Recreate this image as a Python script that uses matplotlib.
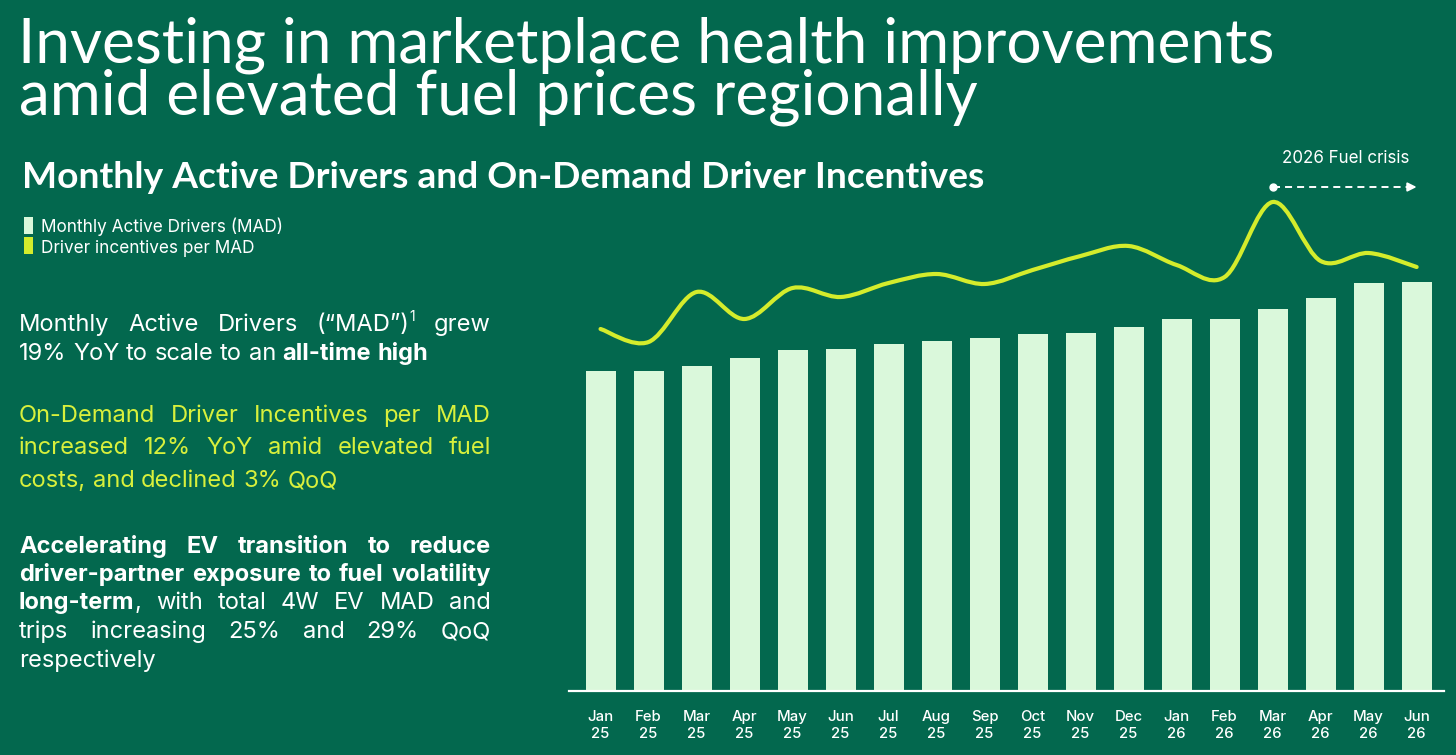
import matplotlib
matplotlib.use("Agg")
import matplotlib.pyplot as plt
from matplotlib.path import Path
from matplotlib.patches import PathPatch, Rectangle

# --- colours ---
BG = "#03684E"
BAR = "#DAF8DB"
LIME = "#D4EC2C"
TEXT_LIME = "#D8F03C"
WHITE = "#FFFFFF"

# --- data (relative units) ---
months = ["Jan", "Feb", "Mar", "Apr", "May", "Jun", "Jul", "Aug", "Sep",
          "Oct", "Nov", "Dec", "Jan", "Feb", "Mar", "Apr", "May", "Jun"]
years = ["25"] * 12 + ["26"] * 6
mad = [320, 320, 325, 333, 341, 342, 347, 350, 353,
       357, 358, 364, 372, 372, 382, 393, 408, 409]
incentives = [362, 349, 399, 372, 403, 394, 408, 417, 407,
              421, 435, 445, 426, 414, 489, 430, 438, 424]
crisis_start, crisis_end = 14, 17

title_lines = ["Investing in marketplace health improvements",
               "amid elevated fuel prices regionally"]
subtitle = "Monthly Active Drivers and On-Demand Driver Incentives"
legend_labels = ["Monthly Active Drivers (MAD)", "Driver incentives per MAD"]

para1 = ["Monthly Active Drivers (“MAD”)^1 grew",
         "19% YoY to scale to an *all-time high*"]
para2 = ["On-Demand Driver Incentives per MAD",
         "increased 12% YoY amid elevated fuel",
         "costs, and declined 3% QoQ"]
para3 = ["*Accelerating EV transition to reduce*",
         "*driver-partner exposure to fuel volatility*",
         "*long-term*, with total 4W EV MAD and",
         "trips increasing 25% and 29% QoQ",
         "respectively"]

W, H = 1456, 755
fig = plt.figure(figsize=(W / 100, H / 100), dpi=100, facecolor=BG)
renderer = fig.canvas.get_renderer()


def fx(x):
    return x / W


def fy(y):
    return 1 - y / H


def measure(s, **kw):
    t = fig.text(0, 0, s, **kw)
    w = t.get_window_extent(renderer).width
    t.remove()
    return w


def fit_size(s, width, base=20, **kw):
    return base * width / measure(s, fontsize=base, **kw)


def parse(line, bold):
    words = []
    for w in line.split(" "):
        segs, buf, sup = [], "", False
        for ch in w:
            if ch == "*":
                if buf:
                    segs.append((buf, bold, sup))
                    buf = ""
                bold = not bold
            elif ch == "^":
                if buf:
                    segs.append((buf, bold, sup))
                    buf = ""
                sup = True
            else:
                buf += ch
        if buf:
            segs.append((buf, bold, sup))
        words.append(segs)
    return words, bold


def seg_kw(bold, sup, size):
    return dict(fontsize=size * (0.6 if sup else 1), family="Inter",
                fontweight="bold" if bold else "normal")


def paragraph(lines, baselines, x0, x1, size, color):
    space = measure("a a", fontsize=size, family="Inter") - measure("aa", fontsize=size, family="Inter")
    bold = False
    for i, (line, yb) in enumerate(zip(lines, baselines)):
        words, bold = parse(line, bold)
        wwidths = []
        for segs in words:
            wwidths.append([measure(t, **seg_kw(b, s, size)) for t, b, s in segs])
        total = sum(sum(w) for w in wwidths)
        last = i == len(lines) - 1
        gap = space if (last or len(words) < 2) else (x1 - x0 - total) / (len(words) - 1)
        x = x0
        for segs, ws in zip(words, wwidths):
            for (t, b, s), w in zip(segs, ws):
                dy = size * 0.42 * 100 / 72 if s else 0
                fig.text(fx(x), fy(yb - dy), t, color=color, va="baseline", ha="left",
                         **seg_kw(b, s, size))
                x += w
            x += gap


# --- titles ---
tsize = fit_size(title_lines[0], 1260, family="Lato")
fig.text(fx(18), fy(63), title_lines[0], fontsize=tsize, family="Lato", color=WHITE, va="baseline")
fig.text(fx(19), fy(115), title_lines[1], fontsize=tsize, family="Lato", color=WHITE, va="baseline")
ssize = fit_size(subtitle, 963, family="Lato", fontweight="bold")
fig.text(fx(22), fy(188), subtitle, fontsize=ssize, family="Lato", fontweight="bold",
         color=WHITE, va="baseline")

# --- legend ---
lsize = fit_size(legend_labels[0], 242, family="Inter")
for lab, col, top, yb in zip(legend_labels, [BAR, LIME], [217, 237], [232, 253]):
    fig.add_artist(Rectangle((fx(24), fy(top + 17)), 9 / W, 17 / H, transform=fig.transFigure,
                             facecolor=col, edgecolor="none"))
    fig.text(fx(41), fy(yb), lab, fontsize=lsize, family="Inter", color=WHITE, va="baseline")

# --- body text ---
bsize = fit_size("costs, and declined 3% QoQ", 319, family="Inter")
paragraph(para1, [331, 360], 19, 491, bsize, WHITE)
paragraph(para2, [422, 454, 487], 19, 491, bsize, TEXT_LIME)
paragraph(para3, [553, 581, 609, 638, 667], 19, 491, bsize, WHITE)

# --- chart ---
ax = fig.add_axes([fx(569), fy(691), 875 / W, (691 - 150) / H])
ax.set_facecolor("none")
x = list(range(len(months)))
ax.bar(x, mad, width=0.625, color=BAR, zorder=2)
ax.set_xlim(-0.657, 17.57)
ax.set_ylim(0, 541)
for sp in ["top", "left", "right"]:
    ax.spines[sp].set_visible(False)
ax.spines["bottom"].set_color(WHITE)
ax.spines["bottom"].set_linewidth(1.6)
ax.spines["bottom"].set_zorder(3)
ax.set_yticks([])
ksize = fit_size("Jan", 26, family="Inter", fontweight="medium")
ax.set_xticks(x, [f"{m}\n{y}" for m, y in zip(months, years)])
ax.tick_params(axis="x", length=0, pad=14, labelcolor=WHITE, labelsize=ksize)
for lab in ax.get_xticklabels():
    lab.set_family("Inter")
    lab.set_fontweight("medium")
    lab.set_linespacing(1.2)

# incentives line on a secondary axis, smoothed with Catmull-Rom bezier segments
ax2 = ax.twinx()
ax2.set_ylim(ax.get_ylim())
ax2.axis("off")
pts = list(zip(x, incentives))
verts = [pts[0]]
codes = [Path.MOVETO]
for i in range(len(pts) - 1):
    p0 = pts[max(i - 1, 0)]
    p1 = pts[i]
    p2 = pts[i + 1]
    p3 = pts[min(i + 2, len(pts) - 1)]
    c1 = (p1[0] + (p2[0] - p0[0]) / 6, p1[1] + (p2[1] - p0[1]) / 6)
    c2 = (p2[0] - (p3[0] - p1[0]) / 6, p2[1] - (p3[1] - p1[1]) / 6)
    verts += [c1, c2, p2]
    codes += [Path.CURVE4] * 3
ax2.add_patch(PathPatch(Path(verts, codes), fill=False, edgecolor=LIME, lw=3.0,
                        capstyle="round", joinstyle="round", zorder=4))

# fuel crisis annotation
ay = 504
ax2.plot([crisis_start, crisis_end - 0.15], [ay, ay], color=WHITE, lw=1.4,
         ls=(0, (3.6, 2.6)), clip_on=False)
ax2.plot([crisis_start], [ay], "o", color=WHITE, ms=5, clip_on=False)
ax2.annotate("", xy=(crisis_end, ay), xytext=(crisis_end - 0.2, ay),
             arrowprops=dict(arrowstyle="-|>", color=WHITE, lw=1.4, mutation_scale=13,
                             shrinkA=0, shrinkB=0), annotation_clip=False)
csize = fit_size("2026 Fuel crisis", 128, family="Inter")
ax2.text(15.53, 532, "2026 Fuel crisis", fontsize=csize, family="Inter", color=WHITE,
         ha="center", va="center", clip_on=False)

fig.savefig("out.png", dpi=100, facecolor=BG)
